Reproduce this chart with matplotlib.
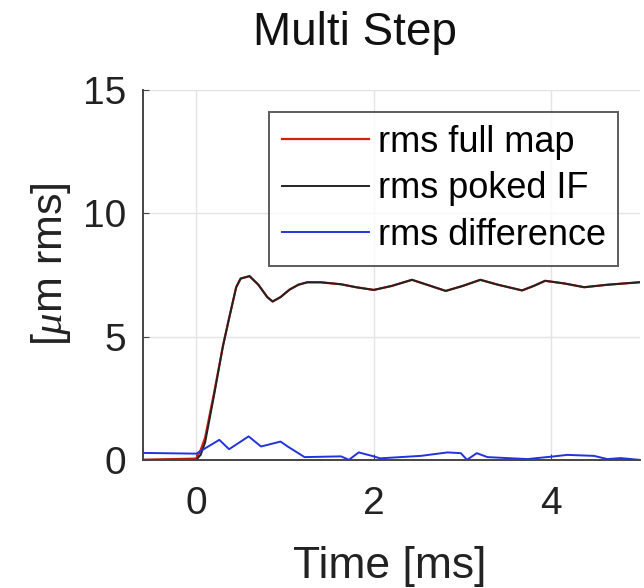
import matplotlib
matplotlib.use("Agg")
import matplotlib.pyplot as plt

plt.rcParams['font.family'] = ['Liberation Sans', 'DejaVu Sans']
plt.rcParams['mathtext.fontset'] = 'custom'
plt.rcParams['mathtext.it'] = 'Liberation Serif:italic'
plt.rcParams['mathtext.rm'] = 'Liberation Sans'

# data
t_full = [-0.6, 0.0, 0.05, 0.1, 0.2, 0.3, 0.37, 0.45, 0.5, 0.6, 0.7, 0.8, 0.86,
          0.95, 1.05, 1.15, 1.25, 1.4, 1.63, 1.8, 2.0, 2.2, 2.43, 2.6, 2.81, 3.0,
          3.2, 3.4, 3.67, 3.8, 3.93, 4.15, 4.37, 4.63, 4.99]
rms_full = [0.0, 0.05, 0.4, 0.9, 2.7, 4.6, 5.74, 7.0, 7.35, 7.45, 7.1, 6.6, 6.42,
            6.6, 6.9, 7.1, 7.2, 7.2, 7.12, 7.0, 6.89, 7.05, 7.3, 7.1, 6.85, 7.05,
            7.3, 7.1, 6.87, 7.05, 7.26, 7.15, 7.0, 7.1, 7.2]
t_poked = [-0.6, 0.0, 0.05, 0.1, 0.2, 0.3, 0.37, 0.45, 0.5, 0.6, 0.7, 0.8, 0.86,
           0.95, 1.05, 1.15, 1.25, 1.4, 1.63, 1.8, 2.0, 2.2, 2.43, 2.6, 2.81, 3.0,
           3.2, 3.4, 3.67, 3.8, 3.93, 4.15, 4.37, 4.63, 4.99]
rms_poked = [0.0, 0.0, 0.2, 0.7, 2.6, 4.6, 5.74, 7.0, 7.35, 7.45, 7.1, 6.6, 6.42,
             6.6, 6.9, 7.1, 7.2, 7.2, 7.12, 7.0, 6.89, 7.05, 7.3, 7.1, 6.85, 7.05,
             7.3, 7.1, 6.87, 7.05, 7.26, 7.15, 7.0, 7.1, 7.2]
t_diff = [-0.6, 0.0, 0.26, 0.37, 0.59, 0.73, 0.95, 1.03, 1.22, 1.63, 1.72, 1.83,
          2.0, 2.07, 2.53, 2.83, 2.98, 3.05, 3.16, 3.28, 3.73, 4.03, 4.18, 4.48,
          4.63, 4.78, 4.99]
rms_diff = [0.28, 0.25, 0.81, 0.43, 0.95, 0.54, 0.74, 0.54, 0.11, 0.14, 0.0, 0.3,
            0.14, 0.06, 0.16, 0.3, 0.27, 0.0, 0.27, 0.11, 0.03, 0.14, 0.2, 0.16,
            0.03, 0.07, 0.0]

labels = ['rms full map', 'rms poked IF', 'rms difference']
xticks = [0, 2, 4]
yticks = [0, 5, 10, 15]

fig = plt.figure(figsize=(6.44, 5.88), dpi=100)
ax = fig.add_axes([0.222, 0.218, 0.772, 0.629])

ax.plot(t_full, rms_full, color='#d62010', lw=1.6, label=labels[0])
ax.plot(t_poked, rms_poked, color='#222222', lw=1.4, label=labels[1])
ax.plot(t_diff, rms_diff, color='#2233dd', lw=1.4, label=labels[2])

ax.set_xlim(-0.6, 5.0)
ax.set_ylim(0, 15)
ax.set_xticks(xticks)
ax.set_yticks(yticks)
ax.grid(True, color='#e4e4e4', lw=1.0)
ax.set_axisbelow(True)
for s in ['top', 'right']:
    ax.spines[s].set_visible(False)
for s in ['left', 'bottom']:
    ax.spines[s].set_color('#444444')
    ax.spines[s].set_linewidth(1.4)
ax.tick_params(direction='in', length=4, labelsize=28, colors='#444444',
               labelcolor='#222222')
ax.tick_params(axis='x', pad=19)
ax.tick_params(axis='y', pad=12)

fig.text(355 / 644, 1 - 45 / 588, 'Multi Step', fontsize=33, color='#111111',
         ha='center', va='baseline')
fig.text(390 / 644, 1 - 578 / 588, 'Time [ms]', fontsize=32, color='#222222',
         ha='center', va='baseline')
fig.text(51 / 644, 1 - 264 / 588, r'[$\mu$m rms]', fontsize=31, color='#222222',
         ha='center', va='center', rotation=90)

leg = ax.legend(loc='upper right', bbox_to_anchor=(0.956, 0.94), fontsize=26,
                frameon=True, fancybox=False, edgecolor='#333333',
                handlelength=2.4, handletextpad=0.25, borderpad=0.35,
                labelspacing=0.32, borderaxespad=0)
leg.get_frame().set_linewidth(1.4)

fig.savefig('out.png', dpi=100)
